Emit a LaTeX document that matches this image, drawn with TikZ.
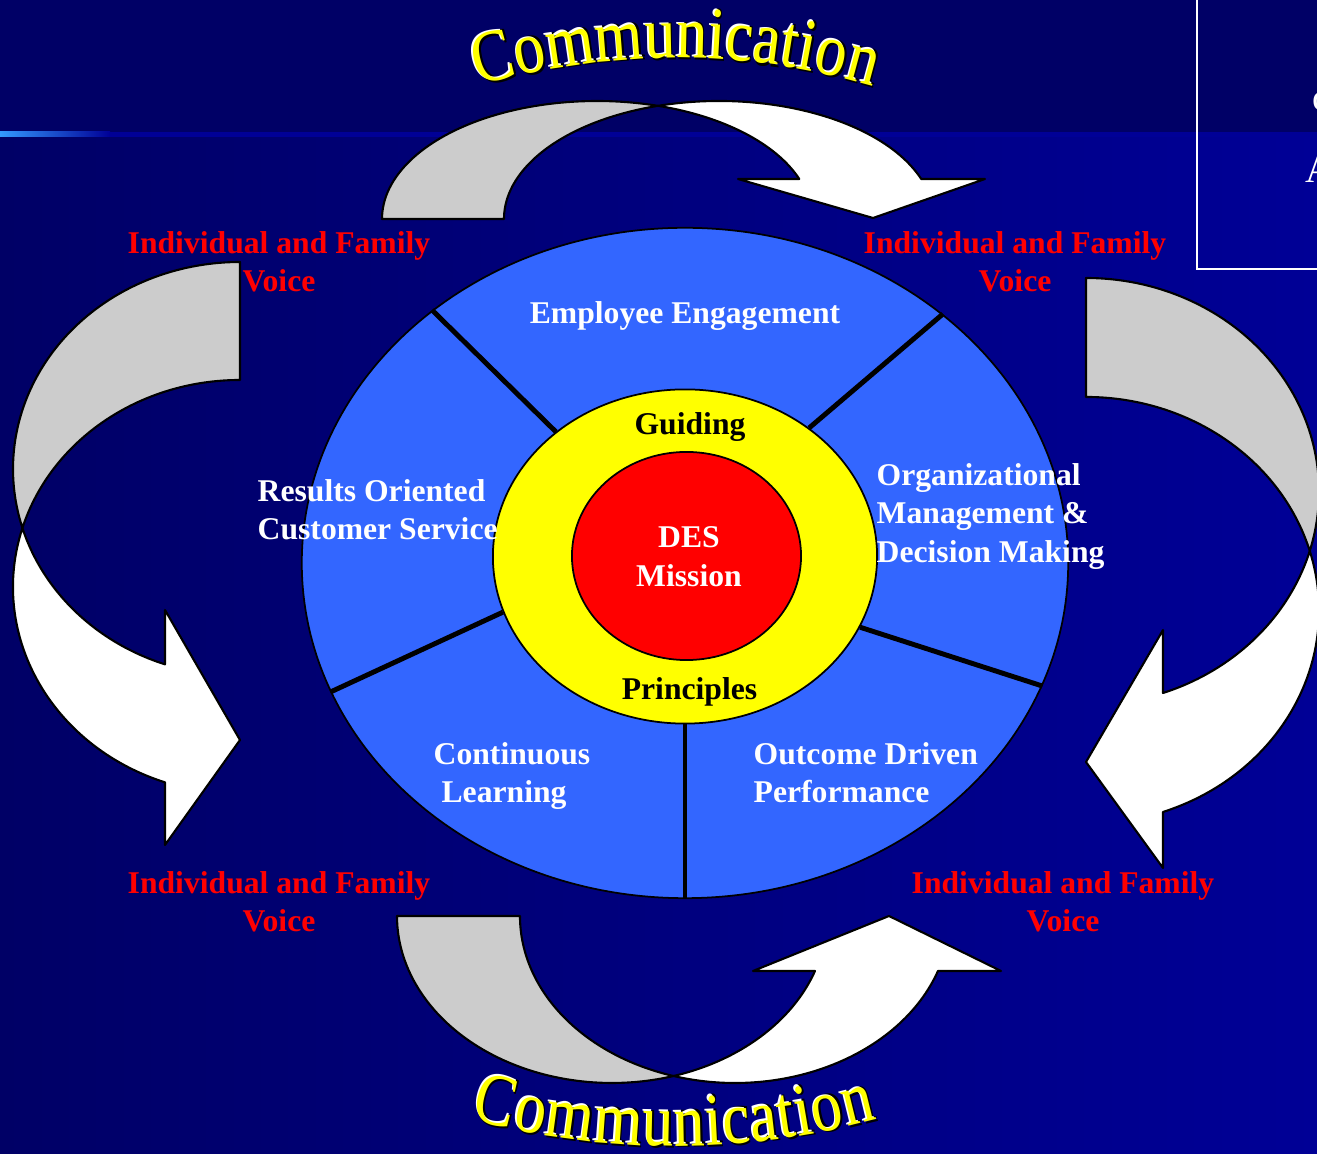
\documentclass[tikz,border=0pt]{standalone}
\usepackage{fontspec}
\setmainfont{Liberation Serif}
\usetikzlibrary{shapes.geometric}

\definecolor{navy}{RGB}{0,0,102}
\definecolor{navyright}{RGB}{0,0,150}
\definecolor{skyline}{RGB}{51,153,255}
\definecolor{ringblue}{RGB}{51,102,255}
\definecolor{backgray}{RGB}{204,204,204}
\definecolor{guideyellow}{RGB}{255,255,0}

% yellow word-art letter with a dark and a light edge
\newcommand\wordart[1]{\scalebox{1}[1.2]{%
  \rlap{\kern0.45pt\raisebox{-0.45pt}{\textcolor{black}{#1}}}%
  \rlap{\kern0.45pt\raisebox{0.35pt}{\textcolor{black}{#1}}}%
  \rlap{\kern-0.45pt\raisebox{0.35pt}{\textcolor{white}{#1}}}%
  \textcolor{guideyellow}{#1}}}

\begin{document}
\begin{tikzpicture}[x=0.01cm,y=0.01cm,
    lbl/.style={text=white,font=\bfseries\fontsize{9}{10.95}\selectfont,inner sep=0pt},
    voice/.style={lbl,text=red,align=center,anchor=north},
    band/.style={draw=black,line width=0.6pt,line join=round},
    spoke/.style={line width=1.4pt},
    letter/.style={inner sep=0pt,anchor=base,font=\fontsize{17.6}{18}\selectfont}]
  \useasboundingbox (0,0) rectangle (1317,1154);
  \clip (0,0) rectangle (1317,1154);

  % background
  \fill[navy] (0,0) rectangle (1317,1154);
  \shade[left color=navy,right color=navyright] (0,0) rectangle (1317,1019);
  \shade[left color=skyline,right color=navyright] (0,1017) rectangle (110,1022);
  \fill[navyright] (110,1017) rectangle (1317,1022);
  \draw[white,line width=0.7pt] (1197,885) rectangle (1340,1170);
  \node[text=white,font=\fontsize{11}{13}\selectfont,inner sep=0pt,anchor=base west] (boxc) at (1312,1043) {c};
  \node[text=white,font=\fontsize{11}{13}\selectfont,inner sep=0pt,anchor=base west] (boxa) at (1304.5,971) {A};

  % top arrow
  \draw[band,fill=backgray] (382,935) arc[start angle=180,end angle=73.52,x radius=215,y radius=118]
    arc[start angle=106.48,end angle=180,x radius=215,y radius=118] -- cycle;
  \draw[band,fill=white] (658,1048.15) arc[start angle=106.48,end angle=19.8,x radius=215,y radius=118]
    -- (985,975) -- (873,936) -- (738,975) -- (799.3,975)
    arc[start angle=19.8,end angle=73.52,x radius=215,y radius=118] -- cycle;
  % bottom arrow
  \draw[band,fill=backgray] (397,238) arc[start angle=180,end angle=286.62,x radius=215,y radius=167]
    arc[start angle=253.38,end angle=180,x radius=215,y radius=167] -- cycle;
  \draw[band,fill=white] (673.5,78) arc[start angle=253.38,end angle=340.77,x radius=215,y radius=167]
    -- (1001,183) -- (889,238) -- (753,183) -- (815,183)
    arc[start angle=340.77,end angle=286.62,x radius=215,y radius=167] -- cycle;
  % left arrow
  \draw[band,fill=backgray] (240,892) arc[start angle=90,end angle=196.56,x radius=227,y radius=207]
    arc[start angle=163.44,end angle=90,x radius=227,y radius=207] -- cycle;
  \draw[band,fill=white] (22.42,626) arc[start angle=163.44,end angle=250.71,x radius=227,y radius=207]
    -- (165,309) -- (240,414) -- (165,544) -- (165,489.63)
    arc[start angle=250.71,end angle=196.56,x radius=227,y radius=207] -- cycle;
  % right arrow
  \draw[band,fill=backgray] (1086,876) arc[start angle=90,end angle=-16.18,x radius=233,y radius=213.5]
    arc[start angle=16.18,end angle=90,x radius=233,y radius=213.5] -- cycle;
  \draw[band,fill=white] (1309.77,603) arc[start angle=16.18,end angle=-70.7,x radius=233,y radius=213.5]
    -- (1163,286) -- (1086,392) -- (1163,524) -- (1163,461)
    arc[start angle=-70.7,end angle=-16.18,x radius=233,y radius=213.5] -- cycle;

  % rings
  \node[ellipse,fill=ringblue,draw=black,line width=0.5pt,minimum width=7.66cm,minimum height=6.7cm,inner sep=0pt] (ring) at (685,591) {};
  \node[ellipse,fill=guideyellow,draw=black,line width=0.5pt,minimum width=3.84cm,minimum height=3.34cm,inner sep=0pt] (guide) at (685,597.5) {};
  \node[ellipse,fill=red,draw=black,line width=0.5pt,minimum width=2.29cm,minimum height=2.08cm,inner sep=0pt] (core) at (686.5,598) {};
  \draw[spoke] (guide.136.7) -- (ring.135);
  \draw[spoke] (guide.46.8) -- (ring.44.7);
  \draw[spoke] (guide.197.7) -- (ring.200.1);
  \draw[spoke] (guide.-22.4) -- (ring.-19.8);
  \draw[spoke] (guide.270) -- (ring.270);

  % labels
  \node[lbl,anchor=base] (engage) at (685,830) {Employee Engagement};
  \node[lbl,align=left,anchor=north west] (results) at (257,675.5) {Results Oriented\\Customer Service};
  \node[lbl,align=left,anchor=north west] (orgman) at (876,691.5) {Organizational\\Management \&\\Decision Making};
  \node[lbl,align=left,anchor=north west] (learn) at (433,412.5) {Continuous\\\hspace*{0.25em}Learning};
  \node[lbl,align=left,anchor=north west] (outcome) at (753,412.5) {Outcome Driven\\Performance};
  \node[lbl,text=black,anchor=base] (guiding) at (690,719) {Guiding};
  \node[lbl,text=black,anchor=base] (principles) at (689.5,454) {Principles};
  \node[lbl,align=center,anchor=north] (mission) at (689,628) {DES\\Mission};
  \node[voice] (voicetl) at (279,923.5) {Individual and Family\\Voice};
  \node[voice] (voicetr) at (1015,923.5) {Individual and Family\\Voice};
  \node[voice] (voicebl) at (279,283.5) {Individual and Family\\Voice};
  \node[voice] (voicebr) at (1063,283.5) {Individual and Family\\Voice};

  % arched words
  \begin{scope}[shift={(676,394)}]
    \foreach \Ch/\Sh [count=\N] in {C/-2.889,o/-2.3055,m/-1.6665,m/-0.8885,u/-0.2495,n/0.2505,i/0.6395,c/1.0005,a/1.4445,t/1.8055,i/2.0835,o/2.4725,n/2.9725}
    {
      \pgfmathsetmacro\A{90-\Sh*62/702*57.2958}
      \node[letter,rotate=\A-90] (topword\N) at (\A:702) {\wordart{\Ch}};
    }
  \end{scope}
  \begin{scope}[shift={(674,797)}]
    \foreach \Ch/\Sh [count=\N] in {C/-2.889,o/-2.3055,m/-1.6665,m/-0.8885,u/-0.2495,n/0.2505,i/0.6395,c/1.0005,a/1.4445,t/1.8055,i/2.0835,o/2.4725,n/2.9725}
    {
      \pgfmathsetmacro\A{270+\Sh*64/789*57.2958}
      \node[letter,rotate=\A-270] (bottomword\N) at (\A:789) {\wordart{\Ch}};
    }
  \end{scope}
\end{tikzpicture}
\end{document}
